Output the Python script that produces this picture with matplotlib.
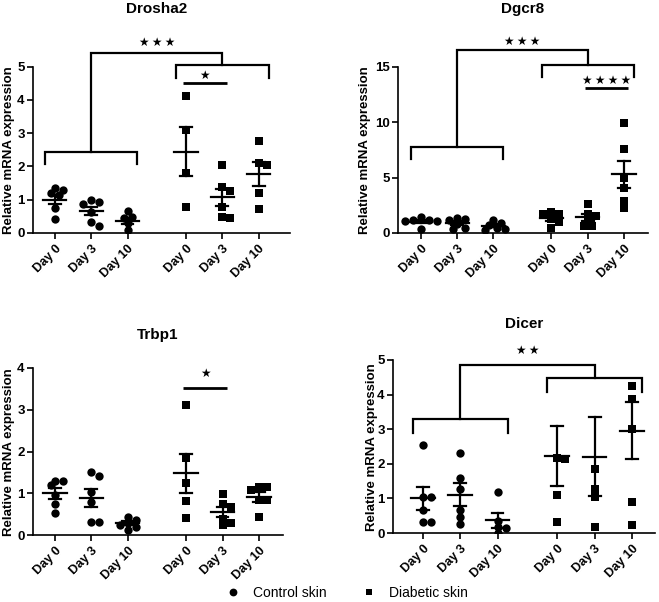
import matplotlib
matplotlib.use('Agg')
import matplotlib.pyplot as plt
from matplotlib.lines import Line2D

plt.rcParams['font.family'] = ['Liberation Sans', 'DejaVu Sans']
plt.rcParams['font.weight'] = 'bold'

W, H = 659, 602

days = ['Day 0', 'Day 3', 'Day 10', 'Day 0', 'Day 3', 'Day 10']
groups = ['Control skin', 'Diabetic skin']
ylabel = 'Relative mRNA expression'

# ---------------- data ----------------
drosha2_points = [
    [1.35, 1.30, 1.20, 1.14, 0.75, 0.42],
    [0.98, 0.93, 0.88, 0.62, 0.32, 0.22],
    [0.65, 0.48, 0.44, 0.30, 0.10],
    [4.12, 3.10, 1.80, 0.78],
    [2.05, 1.38, 1.26, 0.78, 0.48, 0.45],
    [2.78, 2.10, 2.05, 1.20, 0.72],
]
drosha2_mean = [1.00, 0.66, 0.36, 2.45, 1.07, 1.77]
drosha2_sem = [0.13, 0.12, 0.09, 0.73, 0.26, 0.37]

dgcr8_points = [
    [1.47, 1.20, 1.15, 1.10, 1.05, 0.36],
    [1.35, 1.30, 1.20, 0.80, 0.45, 0.36],
    [1.17, 0.93, 0.70, 0.45, 0.36, 0.30],
    [1.86, 1.75, 1.70, 1.30, 1.00, 0.45],
    [2.60, 1.70, 1.55, 1.05, 0.60, 0.60],
    [9.95, 7.60, 5.00, 4.10, 2.90, 2.25],
]
dgcr8_mean = [1.02, 0.90, 0.65, 1.35, 1.40, 5.28]
dgcr8_sem = [0.15, 0.16, 0.14, 0.24, 0.30, 1.20]

trbp1_points = [
    [1.30, 1.29, 1.20, 0.96, 0.74, 0.53],
    [1.51, 1.42, 1.03, 0.80, 0.31, 0.31],
    [0.44, 0.36, 0.28, 0.25, 0.19, 0.13],
    [3.12, 1.84, 1.24, 0.81, 0.40],
    [0.98, 0.74, 0.67, 0.38, 0.29, 0.24],
    [1.15, 1.15, 1.08, 0.84, 0.84, 0.43],
]
trbp1_mean = [1.00, 0.89, 0.28, 1.48, 0.55, 0.91]
trbp1_sem = [0.13, 0.21, 0.05, 0.47, 0.12, 0.12]

dicer_points = [
    [2.55, 1.04, 1.04, 0.66, 0.32, 0.32],
    [2.31, 1.59, 1.27, 0.66, 0.47, 0.27],
    [1.19, 0.35, 0.17, 0.15, 0.00],
    [2.17, 2.14, 1.10, 0.32],
    [1.85, 1.27, 1.04, 0.17],
    [4.25, 3.87, 3.00, 0.90, 0.23],
]
dicer_mean = [1.00, 1.11, 0.37, 2.23, 2.21, 2.96]
dicer_sem = [0.34, 0.33, 0.22, 0.86, 1.14, 0.83]

positions = [0, 1, 2, 3.6, 4.6, 5.6]

panels = [
    dict(title='Drosha2', pts=drosha2_points, mean=drosha2_mean, sem=drosha2_sem,
         rect_px=(33, 66.7, 290, 233), xlim=(-0.6, 6.46), ylim=(0, 5), yticks=[0, 1, 2, 3, 4, 5],
         title_px=(157, 9), ylab_px=(9, 150),
         groupbr=dict(ctrl=2.45, diab=5.05, leg=0.38, top=5.4, star_y=5.72, stars=3),
         lines=[(3, 4, 4.52, 4.73, 1)]),
    dict(title='Dgcr8', pts=dgcr8_points, mean=dgcr8_mean, sem=dgcr8_sem,
         rect_px=(398, 66.7, 648, 233), xlim=(-0.63, 6.26), ylim=(0, 15), yticks=[0, 5, 10, 15],
         title_px=(523, 9), ylab_px=(365, 150),
         groupbr=dict(ctrl=7.8, diab=15.15, leg=1.1, top=16.55, star_y=17.25, stars=3),
         lines=[(4, 5, 13.05, 13.8, 4)]),
    dict(title='Trbp1', pts=trbp1_points, mean=trbp1_mean, sem=trbp1_sem,
         rect_px=(33, 368, 283, 535), xlim=(-0.6, 6.26), ylim=(0, 4), yticks=[0, 1, 2, 3, 4],
         title_px=(157.5, 335), ylab_px=(9, 452),
         groupbr=None,
         lines=[(3, 4, 3.52, 3.88, 1)]),
    dict(title='Dicer', pts=dicer_points, mean=dicer_mean, sem=dicer_sem,
         rect_px=(393, 360, 655, 533), xlim=(-0.8, 6.22), ylim=(0, 5), yticks=[0, 1, 2, 3, 4, 5],
         title_px=(524, 324), ylab_px=(372, 447),
         groupbr=dict(ctrl=3.29, diab=4.47, leg=0.4, top=4.86, star_y=5.29, stars=2),
         lines=[]),
]

fig = plt.figure(figsize=(W / 100, H / 100), dpi=100)

LW = 1.6
DIAM = 8.0  # marker diameter in px


def star_text(n):
    return '\u2009'.join(['★'] * n)


def swarm(ax, x0, vals, diam):
    order = sorted(range(len(vals)), key=lambda i: -vals[i])
    placed = []
    res = [0.0] * len(vals)
    px_per_unit = ax.transData.transform((1, 0))[0] - ax.transData.transform((0, 0))[0]
    for i in order:
        xp, yp = ax.transData.transform((x0, vals[i]))
        cx = xp
        for k in [0, 1, -1, 2, -2, 3, -3, 4, -4]:
            cx = xp + k * diam * 0.5
            if all(((cx - px) ** 2 + (yp - py) ** 2) ** 0.5 >= diam * 0.72 for px, py in placed):
                break
        placed.append((cx, yp))
        res[i] = x0 + (cx - xp) / px_per_unit
    return res


for p in panels:
    l, t, r, b = p['rect_px']
    ax = fig.add_axes([l / W, 1 - b / H, (r - l) / W, (b - t) / H])
    ax.set_xlim(*p['xlim'])
    ax.set_ylim(*p['ylim'])
    ax.set_yticks(p['yticks'])
    ax.set_xticks(positions)
    ax.set_xticklabels(days, rotation=45, ha='right', va='top', rotation_mode='anchor',
                       fontsize=9, fontweight='bold')
    ax.tick_params(axis='y', labelsize=9.5, length=4, width=1.2, pad=2)
    ax.tick_params(axis='x', length=4, width=1.2, pad=3)
    for s in ['top', 'right']:
        ax.spines[s].set_visible(False)
    for s in ['left', 'bottom']:
        ax.spines[s].set_linewidth(1.2)

    for gi, (x0, vals) in enumerate(zip(positions, p['pts'])):
        xs = swarm(ax, x0, vals, DIAM)
        if gi < 3:
            ax.plot(xs, vals, 'o', color='black', ms=6.0, mew=0, zorder=3)
        else:
            ax.plot(xs, vals, 's', color='black', ms=5.4, mew=0, zorder=3)
        m, s = p['mean'][gi], p['sem'][gi]
        ax.plot([x0 - 0.32, x0 + 0.32], [m, m], color='black', lw=LW, zorder=4)
        ax.plot([x0, x0], [m - s, m + s], color='black', lw=LW, zorder=4)
        ax.plot([x0 - 0.16, x0 + 0.16], [m + s, m + s], color='black', lw=LW, zorder=4)
        ax.plot([x0 - 0.16, x0 + 0.16], [m - s, m - s], color='black', lw=LW, zorder=4)

    kw = dict(color='black', lw=LW, clip_on=False, solid_joinstyle='miter')
    g = p['groupbr']
    if g is not None:
        ov = 0.27
        c0, c1 = positions[0] - ov, positions[2] + ov
        d0, d1 = positions[3] - ov, positions[5] + ov
        leg = g['leg']
        ax.plot([c0, c0, c1, c1], [g['ctrl'] - leg, g['ctrl'], g['ctrl'], g['ctrl'] - leg], **kw)
        ax.plot([d0, d0, d1, d1], [g['diab'] - leg, g['diab'], g['diab'], g['diab'] - leg], **kw)
        cm, dm = (c0 + c1) / 2, (d0 + d1) / 2
        ax.plot([cm, cm, dm, dm], [g['ctrl'], g['top'], g['top'], g['diab']], **kw)
        ax.text((cm + dm) / 2, g['star_y'], star_text(g['stars']), ha='center', va='center',
                fontsize=8.5, family=['DejaVu Sans'], clip_on=False)
    for i0, i1, ly, sy, n in p['lines']:
        x0, x1 = positions[i0] - 0.08, positions[i1] + 0.12
        ax.plot([x0, x1], [ly, ly], color='black', lw=2.0, clip_on=False, solid_capstyle='butt')
        ax.text((x0 + x1) / 2, sy, star_text(n), ha='center', va='center', fontsize=8.5,
                family=['DejaVu Sans'], clip_on=False)

    tx, ty = p['title_px']
    fig.text(tx / W, 1 - ty / H, p['title'], ha='center', va='center', fontsize=11, fontweight='bold')
    lx, ly = p['ylab_px']
    fig.text(lx / W, 1 - ly / H, ylabel, ha='center', va='center', rotation=90,
             fontsize=9.5, fontweight='bold')

handles = [Line2D([], [], marker='o', ls='', color='black', ms=5.6, mew=0),
           Line2D([], [], marker='s', ls='', color='black', ms=5.0, mew=0)]
fig.legend(handles, groups, loc='center', bbox_to_anchor=(347 / W, 1 - 593 / H), ncol=2,
           frameon=False, prop={'size': 10, 'weight': 'normal'}, handletextpad=0.9,
           columnspacing=2.6, handlelength=1.0)

fig.savefig('out.png', dpi=100)
